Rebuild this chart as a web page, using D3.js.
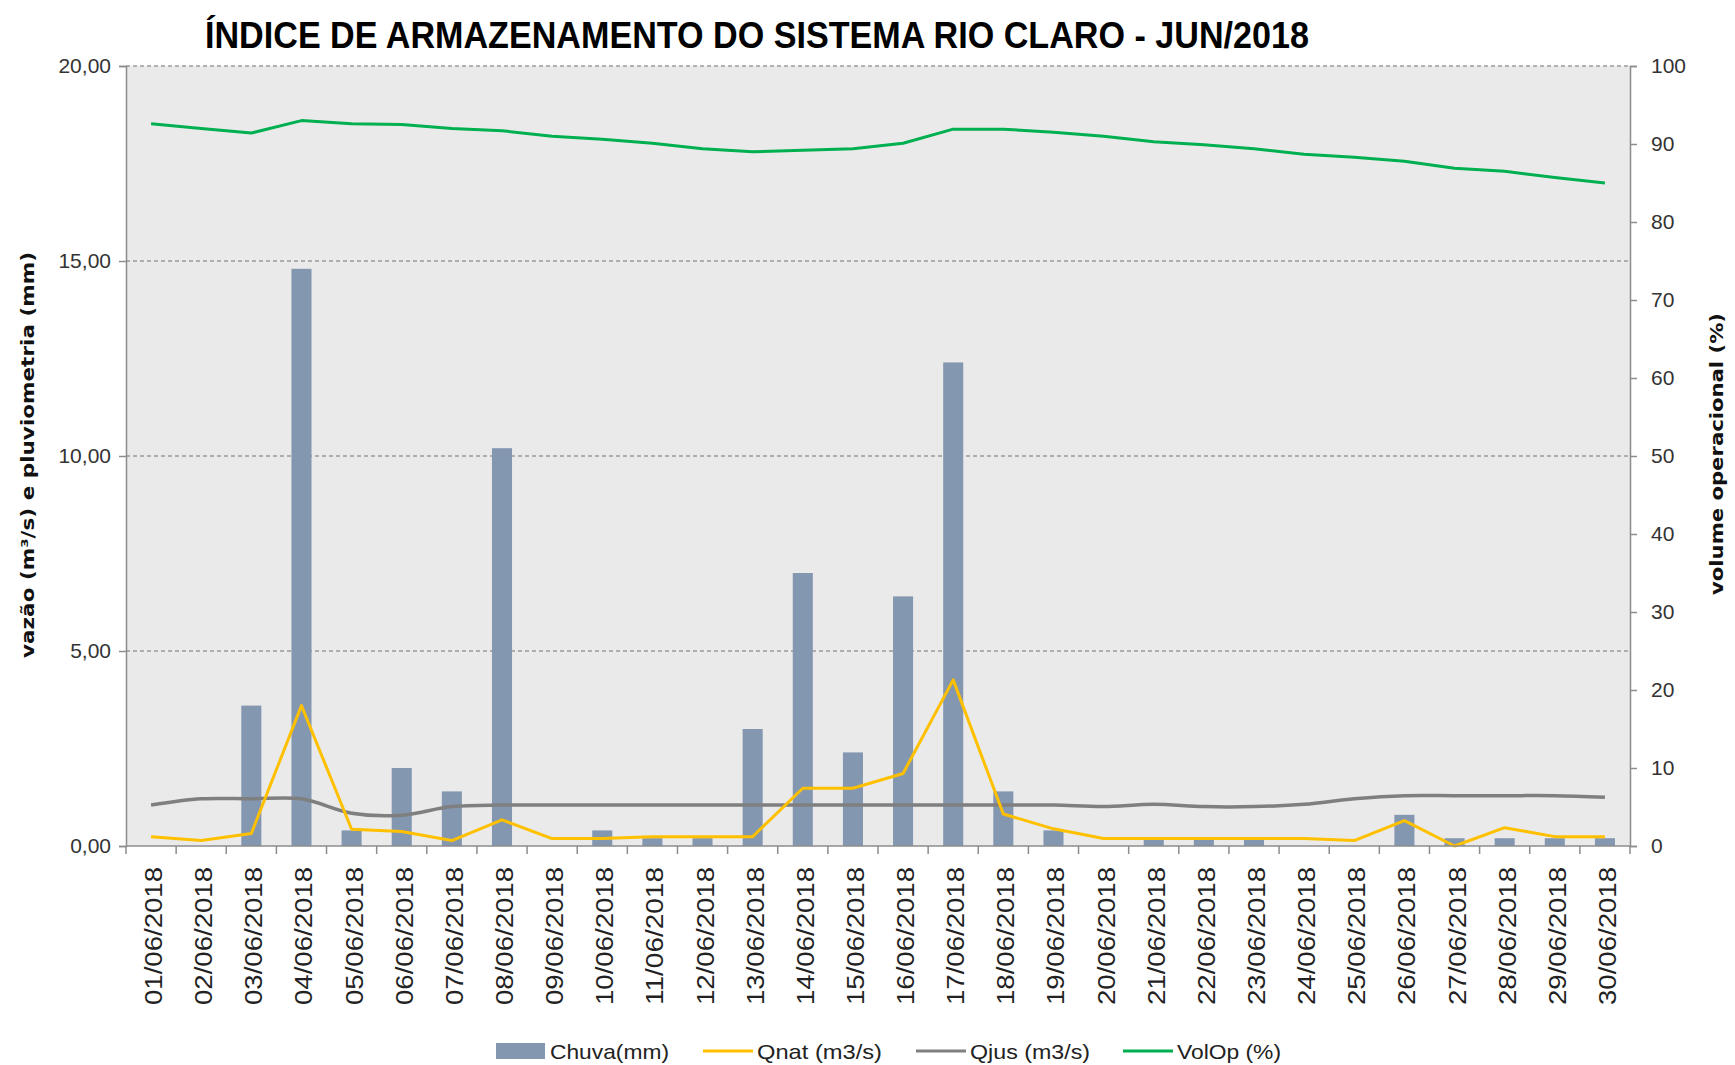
<!DOCTYPE html>
<html>
<head>
<meta charset="utf-8">
<script src="https://cdn.jsdelivr.net/npm/d3@7"></script>
<style>
  html, body { margin: 0; padding: 0; background: #fff; }
  svg { display: block; }
  text { font-family: "Liberation Sans", Arial, sans-serif; }
</style>
</head>
<body>
<svg id="chart" width="1735" height="1065"></svg>
<script>
const titleText = "ÍNDICE DE ARMAZENAMENTO DO SISTEMA RIO CLARO - JUN/2018";
const leftAxisLabel = "vazão (m³/s) e pluviometria (mm)";
const rightAxisLabel = "volume operacional (%)";

const dates = ["01/06/2018","02/06/2018","03/06/2018","04/06/2018","05/06/2018","06/06/2018","07/06/2018","08/06/2018","09/06/2018","10/06/2018",
               "11/06/2018","12/06/2018","13/06/2018","14/06/2018","15/06/2018","16/06/2018","17/06/2018","18/06/2018","19/06/2018","20/06/2018",
               "21/06/2018","22/06/2018","23/06/2018","24/06/2018","25/06/2018","26/06/2018","27/06/2018","28/06/2018","29/06/2018","30/06/2018"];

const chuva = [0, 0, 3.6, 14.8, 0.4, 2.0, 1.4, 10.2, 0, 0.4,
               0.2, 0.2, 3.0, 7.0, 2.4, 6.4, 12.4, 1.4, 0.4, 0,
               0.2, 0.2, 0.2, 0, 0, 0.8, 0.2, 0.2, 0.2, 0.2];

const qnat = [0.24, 0.14, 0.32, 3.60, 0.43, 0.37, 0.14, 0.67, 0.19, 0.19,
              0.24, 0.24, 0.24, 1.48, 1.48, 1.86, 4.26, 0.82, 0.44, 0.19,
              0.19, 0.19, 0.19, 0.19, 0.14, 0.65, 0.00, 0.47, 0.24, 0.24];

const qjus = [1.05, 1.21, 1.21, 1.21, 0.84, 0.79, 1.01, 1.05, 1.05, 1.05,
              1.05, 1.05, 1.05, 1.05, 1.05, 1.05, 1.05, 1.05, 1.05, 1.01,
              1.07, 1.01, 1.01, 1.07, 1.21, 1.29, 1.29, 1.29, 1.29, 1.25];

const volop = [92.6, 92.0, 91.4, 93.0, 92.6, 92.5, 92.0, 91.7, 91.0, 90.6,
               90.1, 89.4, 89.0, 89.2, 89.4, 90.1, 91.9, 91.9, 91.5, 91.0,
               90.3, 89.9, 89.4, 88.7, 88.3, 87.8, 86.9, 86.5, 85.7, 85.0];

const leftTicks = [0, 5, 10, 15, 20];
const rightTicks = [0, 10, 20, 30, 40, 50, 60, 70, 80, 90, 100];

const legendItems = [
  {label: "Chuva(mm)", type: "bar", color: "#8497B0"},
  {label: "Qnat (m3/s)", type: "line", color: "#FFC000"},
  {label: "Qjus (m3/s)", type: "line", color: "#808080"},
  {label: "VolOp (%)", type: "line", color: "#00B050"}
];

// layout
const L = 126, R = 1630, T = 66, B = 846;
const svg = d3.select("#chart");

const x = d3.scaleBand().domain(dates).range([L, R]).padding(0);
const yL = d3.scaleLinear().domain([0, 20]).range([B, T]);
const yR = d3.scaleLinear().domain([0, 100]).range([B, T]);
const cx = d => x(d) + x.bandwidth() / 2;
const fmtL = v => d3.format(".2f")(v).replace(".", ",");

// plot background
svg.append("rect").attr("x", L).attr("y", T).attr("width", R - L).attr("height", B - T).attr("fill", "#EAEAEA");

// gridlines
svg.append("g").selectAll("line").data(leftTicks.filter(v => v > 0)).join("line")
  .attr("x1", L).attr("x2", R).attr("y1", d => yL(d)).attr("y2", d => yL(d))
  .attr("stroke", "#9A9A9A").attr("stroke-width", 1.5).attr("stroke-dasharray", "4,3");

// bars
svg.append("g").selectAll("rect").data(dates).join("rect")
  .attr("x", d => x(d) + x.bandwidth() * 0.3)
  .attr("width", x.bandwidth() * 0.4)
  .attr("y", (d, i) => yL(chuva[i]))
  .attr("height", (d, i) => yL(0) - yL(chuva[i]))
  .attr("fill", "#8497B0");

// lines
const lineL = d3.line().x((d, i) => cx(dates[i])).y(d => yL(d));
svg.append("path").datum(qjus)
  .attr("d", lineL.curve(d3.curveCatmullRom.alpha(0.5)))
  .attr("fill", "none").attr("stroke", "#7F7F7F").attr("stroke-width", 3.5).attr("stroke-linejoin", "round");
svg.append("path").datum(qnat)
  .attr("d", d3.line().x((d, i) => cx(dates[i])).y(d => yL(d))(qnat))
  .attr("fill", "none").attr("stroke", "#FFC000").attr("stroke-width", 3).attr("stroke-linejoin", "round");
svg.append("path").datum(volop)
  .attr("d", d3.line().x((d, i) => cx(dates[i])).y(d => yR(d))(volop))
  .attr("fill", "none").attr("stroke", "#00B050").attr("stroke-width", 3).attr("stroke-linejoin", "round");

// axes
const axisColor = "#8C8C8C";
const gL = svg.append("g").attr("transform", `translate(${L},0)`)
  .call(d3.axisLeft(yL).tickValues(leftTicks).tickFormat(fmtL).tickSize(7).tickPadding(8));
const gR = svg.append("g").attr("transform", `translate(${R},0)`)
  .call(d3.axisRight(yR).tickValues(rightTicks).tickFormat(d3.format("d")).tickSize(7).tickPadding(14));
[gL, gR].forEach(g => {
  g.select(".domain").attr("stroke", axisColor).attr("stroke-width", 1.5);
  g.selectAll(".tick line").attr("stroke", axisColor).attr("stroke-width", 1.5);
  g.selectAll(".tick text").attr("fill", "#333").style("font-size", "21px")
    .style("font-family", "'Liberation Sans', Arial, sans-serif");
});

// bottom axis: ticks at band boundaries
const gB = svg.append("g");
gB.append("line").attr("x1", L).attr("x2", R).attr("y1", B).attr("y2", B)
  .attr("stroke", axisColor).attr("stroke-width", 1.5);
const boundaries = dates.map(d => x(d)).concat([R]);
gB.selectAll("line.tk").data(boundaries).join("line").attr("class", "tk")
  .attr("x1", d => d).attr("x2", d => d).attr("y1", B).attr("y2", B + 8)
  .attr("stroke", axisColor).attr("stroke-width", 1.5);
gB.selectAll("text").data(dates).join("text")
  .attr("transform", d => `translate(${cx(d) + 11},${B + 21}) rotate(-90)`)
  .attr("text-anchor", "end")
  .attr("fill", "#222")
  .style("font-size", "23px")
  .attr("textLength", 138).attr("lengthAdjust", "spacingAndGlyphs")
  .text(d => d);

// title
svg.append("text").attr("x", 205).attr("y", 48)
  .style("font-size", "37px").style("font-weight", "bold")
  .attr("fill", "#000")
  .attr("textLength", 1104).attr("lengthAdjust", "spacingAndGlyphs")
  .text(titleText);

// axis titles
svg.append("text")
  .attr("transform", `translate(34,${455}) rotate(-90)`)
  .attr("text-anchor", "middle")
  .style("font-family", "'DejaVu Sans', sans-serif")
  .style("font-size", "17px").style("font-weight", "bold").attr("fill", "#111")
  .attr("textLength", 406).attr("lengthAdjust", "spacingAndGlyphs")
  .text(leftAxisLabel);
svg.append("text")
  .attr("transform", `translate(1723,${454}) rotate(-90)`)
  .attr("text-anchor", "middle")
  .style("font-family", "'DejaVu Sans', sans-serif")
  .style("font-size", "17px").style("font-weight", "bold").attr("fill", "#111")
  .attr("textLength", 282).attr("lengthAdjust", "spacingAndGlyphs")
  .text(rightAxisLabel);

// legend
const legendX = [496, 703, 916, 1123];
const legendTextLen = [119, 125, 120, 104];
const lg = svg.append("g");
legendItems.forEach((it, i) => {
  const x0 = legendX[i];
  if (it.type === "bar") {
    lg.append("rect").attr("x", x0).attr("y", 1043).attr("width", 49).attr("height", 16).attr("fill", it.color);
  } else {
    lg.append("line").attr("x1", x0).attr("x2", x0 + 50).attr("y1", 1051).attr("y2", 1051)
      .attr("stroke", it.color).attr("stroke-width", 3);
  }
  lg.append("text").attr("x", x0 + 54).attr("y", 1059)
    .style("font-size", "21px").attr("fill", "#222")
    .attr("textLength", legendTextLen[i]).attr("lengthAdjust", "spacingAndGlyphs")
    .text(it.label);
});
</script>
</body>
</html>
